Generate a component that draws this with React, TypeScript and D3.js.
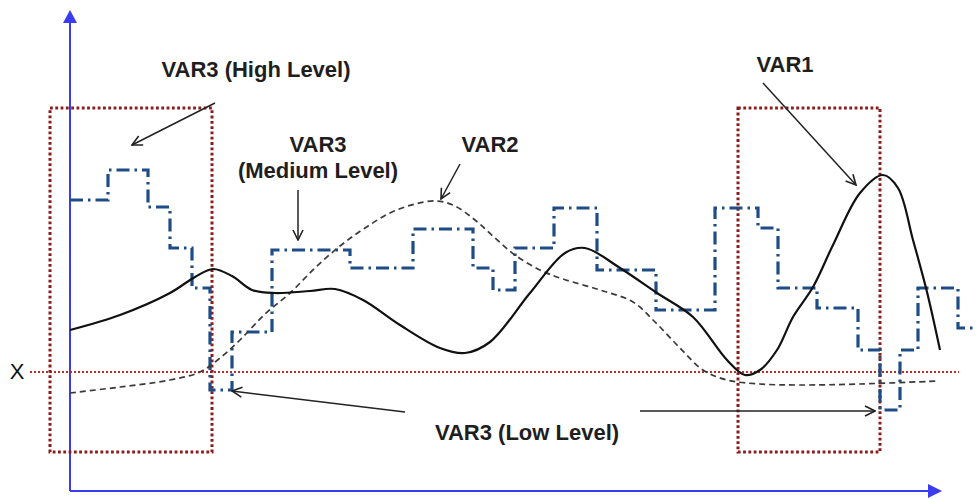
import React from "react";
import * as d3 from "d3";

// ---- Data (arbitrary units) ----
// VAR1: solid curve
const var1T = [2, 52, 102, 127, 145, 164, 184, 207, 242, 267, 295, 332, 372, 397, 422, 462, 497, 517, 552, 589, 625, 659, 677, 692, 709, 725, 745, 765, 792, 815, 830, 845, 859, 872];
const var1V = [160, 175, 197, 213, 221, 214, 200, 197, 199, 201, 190, 165, 142, 137, 148, 197, 237, 242, 222, 197, 173, 130, 115, 120, 140, 173, 203, 245, 297, 315, 302, 250, 198, 140];
// VAR2: dashed curve
const var2T = [2, 52, 102, 132, 152, 172, 197, 222, 247, 272, 297, 322, 347, 369, 387, 407, 427, 447, 472, 495, 532, 565, 587, 612, 635, 659, 692, 732, 792, 870];
const var2V = [97, 103, 110, 118, 132, 150, 176, 197, 222, 244, 262, 277, 286, 289, 284, 270, 252, 235, 220, 211, 200, 188, 168, 142, 120, 110, 106, 105, 106, 109];
// VAR3: step series (value holds from each t until the next)
const var3T = [2, 40, 80, 102, 124, 142, 164, 204, 282, 345, 405, 425, 447, 486, 529, 588, 647, 690, 710, 749, 790, 812, 832, 850, 890, 907];
const var3V = [290, 320, 283, 242, 202, 100, 158, 240, 222, 261, 222, 200, 242, 282, 220, 180, 282, 262, 202, 182, 140, 80, 140, 202, 162, 162];

const thresholdX = 118;
const boxes = [
  { t0: -18, t1: 144, v0: 38, v1: 382 },
  { t0: 670, t1: 812, v0: 38, v1: 382 },
];
const arrows = [
  { from: [147, 387], to: [64, 345] },
  { from: [230, 300], to: [230, 250] },
  { from: [392, 326], to: [373, 291] },
  { from: [695, 407], to: [788, 305] },
  { from: [337, 78], to: [164, 99] },
  { from: [572, 79], to: [807, 79] },
];
const labels = [
  { text: "VAR3 (High Level)", x: 256, y: 77 },
  { text: "VAR3", x: 318, y: 152 },
  { text: "(Medium Level)", x: 318, y: 178 },
  { text: "VAR2", x: 490, y: 152 },
  { text: "VAR1", x: 785, y: 72 },
  { text: "VAR3 (Low Level)", x: 527, y: 440 },
];

const W = 976;
const H = 499;

export default function App() {
  const x = d3.scaleLinear().domain([0, 872]).range([68, 940]);
  const y = d3.scaleLinear().domain([0, 480]).range([490, 10]);

  const smooth = d3
    .line<[number, number]>()
    .x((d) => x(d[0]))
    .y((d) => y(d[1]))
    .curve(d3.curveCatmullRom.alpha(0.5));
  const step = d3
    .line<[number, number]>()
    .x((d) => x(d[0]))
    .y((d) => y(d[1]))
    .curve(d3.curveStepAfter);

  const v1 = var1T.map((t, i) => [t, var1V[i]] as [number, number]);
  const v2 = var2T.map((t, i) => [t, var2V[i]] as [number, number]);
  const v3 = var3T.map((t, i) => [t, var3V[i]] as [number, number]);

  const axisColor = "#3b3bf0";
  const axX = 70;
  const axY = 491;

  return (
    <svg
      width={W}
      height={H}
      style={{ position: "absolute", left: 0, top: 0, background: "#fff" }}
      fontFamily="'Liberation Sans', Arial, sans-serif"
    >
      <defs>
        <marker id="open" viewBox="0 0 12 12" refX="11" refY="6" markerWidth="12" markerHeight="12" markerUnits="userSpaceOnUse" orient="auto">
          <path d="M1,1 L11,6 L1,11" fill="none" stroke="#222" strokeWidth="1.6" />
        </marker>
      </defs>
      <rect x={0} y={0} width={W} height={H} fill="#fff" />

      {/* axes */}
      <line x1={axX} y1={axY} x2={axX} y2={22} stroke={axisColor} strokeWidth={2} />
      <path d={`M${axX - 7},23 L${axX},10 L${axX + 7},23 Z`} fill={axisColor} />
      <line x1={axX} y1={axY} x2={930} y2={axY} stroke={axisColor} strokeWidth={2} />
      <path d={`M928,${axY - 7} L942,${axY} L928,${axY + 7} Z`} fill={axisColor} />

      {/* threshold X line */}
      <line x1={30} x2={959} y1={y(thresholdX)} y2={y(thresholdX)} stroke="#c0282d" strokeWidth={2} strokeDasharray="2 2" />
      <text x={17} y={379} fontSize={22} textAnchor="middle" fill="#111">X</text>

      {/* boxes */}
      {boxes.map((b, i) => (
        <rect
          key={i}
          x={x(b.t0)}
          y={y(b.v1)}
          width={x(b.t1) - x(b.t0)}
          height={y(b.v0) - y(b.v1)}
          fill="none"
          stroke="#8c1b1b"
          strokeWidth={3}
          strokeDasharray="2.8 2.5"
        />
      ))}

      {/* series */}
      <path d={step(v3) || ""} fill="none" stroke="#1d4c86" strokeWidth={3.2} strokeDasharray="13 5 2.5 5" />
      <path d={smooth(v2) || ""} fill="none" stroke="#3a3a3a" strokeWidth={1.7} strokeDasharray="6 4" />
      <path d={smooth(v1) || ""} fill="none" stroke="#111" strokeWidth={2.2} />

      {/* annotation arrows */}
      {arrows.map((a, i) => (
        <line
          key={i}
          x1={x(a.from[0])}
          y1={y(a.from[1])}
          x2={x(a.to[0])}
          y2={y(a.to[1])}
          stroke="#222"
          strokeWidth={1.5}
          markerEnd="url(#open)"
        />
      ))}

      {labels.map((l, i) => (
        <text key={i} x={l.x} y={l.y} fontSize={22} fontWeight="bold" textAnchor="middle" fill="#1e1e1e">
          {l.text}
        </text>
      ))}
    </svg>
  );
}
